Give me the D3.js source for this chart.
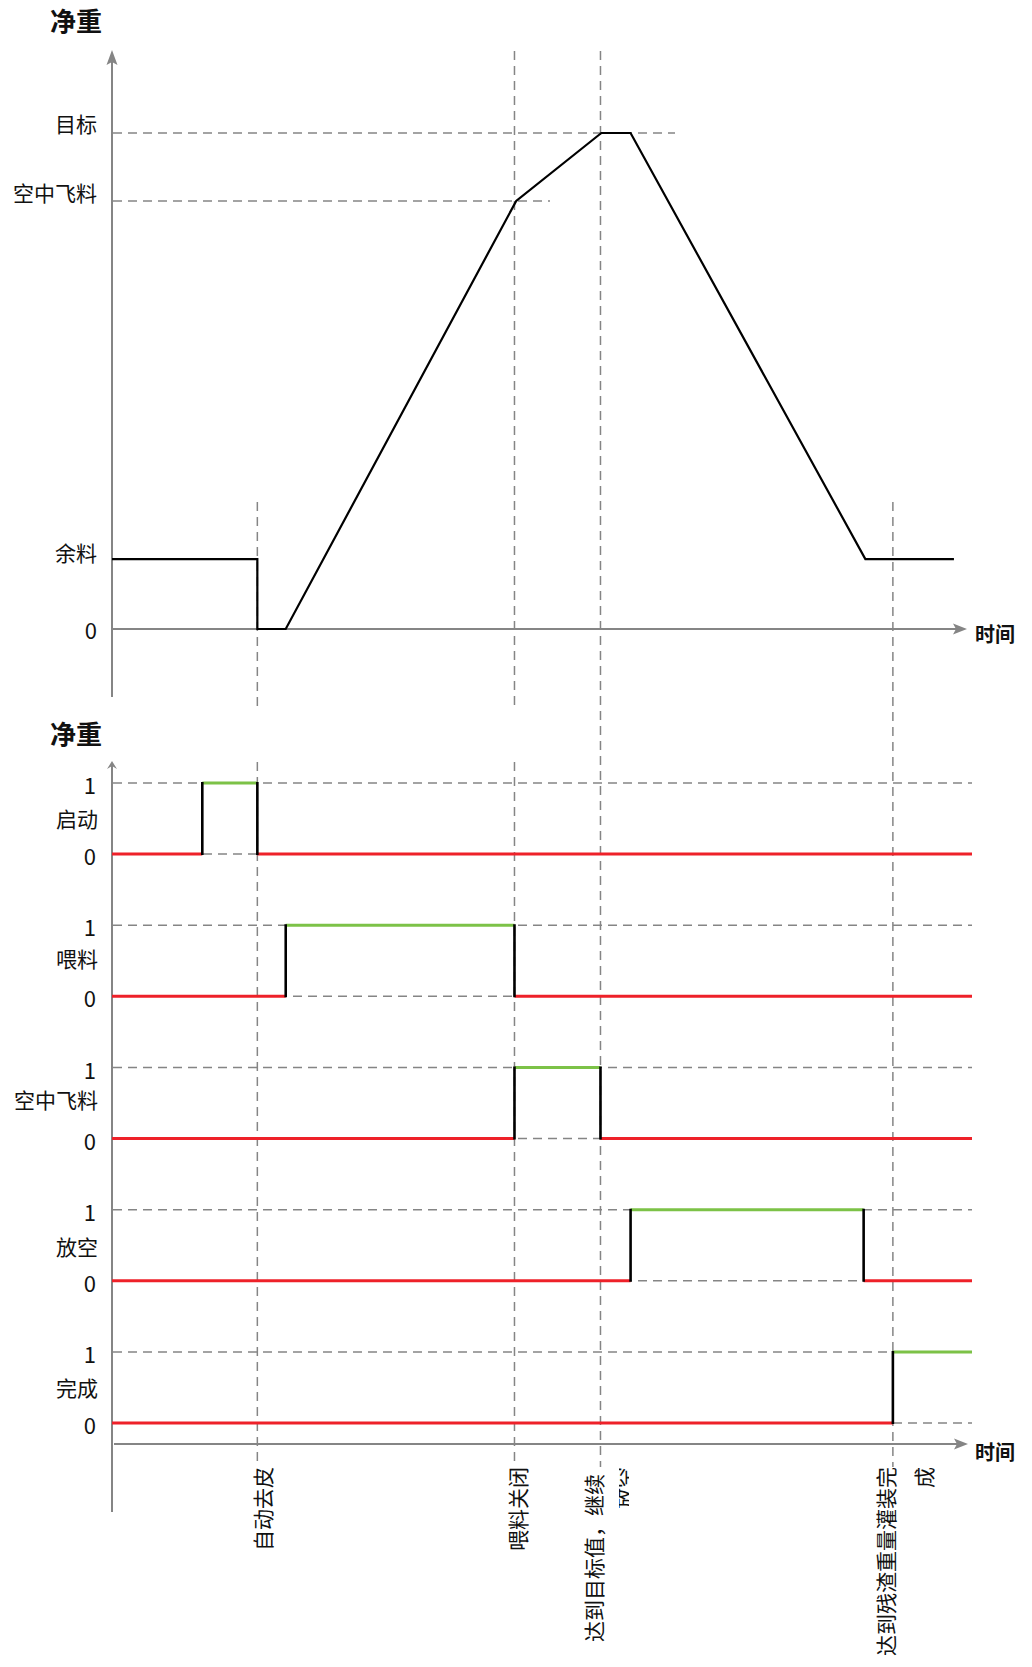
<!DOCTYPE html>
<html>
<head>
<meta charset="utf-8">
<script src="https://cdn.jsdelivr.net/npm/d3@7"></script>
<style>
  html, body { margin: 0; padding: 0; background: #fff; }
  svg { display: block; }
  text { font-family: "Noto Sans CJK SC", "Noto Sans", sans-serif; fill: #111; }
</style>
</head>
<body>
<svg id="chart" width="1032" height="1667"></svg>
<script>
// ---------------- data ----------------
const timeDomain = [0, 100];
// top chart: net weight levels
const weightLevelLabels = ["0", "余料", "空中飞料", "目标"];
const weightLevelValues = [0, 14.1, 86.3, 100];
// net weight curve (time, value)
const netWeightTime  = [0, 16.9, 16.9, 20.2, 47.0, 56.9, 60.3, 87.6, 97.9];
const netWeightValue = [14.1, 14.1, 0, 0, 86.3, 100, 100, 14.1, 14.1];
// bottom chart: signals
const signalNames = ["启动", "喂料", "空中飞料", "放空", "完成"];
const signalChangeTimes = [
  [0, 10.5, 16.9],
  [0, 20.2, 46.8],
  [0, 46.8, 56.8],
  [0, 60.3, 87.4],
  [0, 90.8]
];
const signalStates = [
  [0, 1, 0],
  [0, 1, 0],
  [0, 1, 0],
  [0, 1, 0],
  [0, 1]
];
const stateTickLabels = ["0", "1"];
// events
const eventTimes = [16.9, 46.8, 56.8, 90.8];
const eventLabels = [["自动去皮"], ["喂料关闭"], ["达到目标值，继续", "放空"], ["达到残渣重量灌装完", "成"]];
const yAxisTitle = "净重";
const xAxisTitle = "时间";

// ---------------- layout ----------------
const svg = d3.select("#chart");
const GREY = "#858585";
const RED = "#ee2129";
const GREEN = "#7cc247";
const DASH = "9,6";

const x = d3.scaleLinear().domain(timeDomain).range([112, 972]);
const yTop = d3.scaleLinear().domain([0, 100]).range([629, 133]);

function arrowUp(cx, tipY, len, half) {
  svg.append("path")
    .attr("d", `M${cx},${tipY} L${cx - half},${tipY + len} L${cx},${tipY + len - 3} L${cx + half},${tipY + len} Z`)
    .attr("fill", GREY);
}
function arrowRight(tipX, cy, len, half) {
  svg.append("path")
    .attr("d", `M${tipX},${cy} L${tipX - len},${cy - half} L${tipX - len + 3},${cy} L${tipX - len},${cy + half} Z`)
    .attr("fill", GREY);
}

// ---------- event vertical dashed guides ----------
const guideSegments = [
  [[502, 708], [762, 1467]],
  [[51, 707], [762, 1463]],
  [[51, 1467]],
  [[502, 1467]]
];
eventTimes.forEach((t, i) => {
  guideSegments[i].forEach(seg => {
    svg.append("line")
      .attr("x1", x(t)).attr("x2", x(t))
      .attr("y1", seg[0]).attr("y2", seg[1])
      .attr("stroke", GREY).attr("stroke-width", 1.5)
      .attr("stroke-dasharray", DASH);
  });
});

// ================= TOP CHART =================
svg.append("text").attr("x", 50).attr("y", 31)
  .attr("font-size", 26).attr("font-weight", "bold").text(yAxisTitle);

// horizontal reference dashes
const refDashEnds = {"空中飞料": 550, "目标": 675};
weightLevelLabels.forEach((lab, i) => {
  if (refDashEnds[lab]) {
    svg.append("line")
      .attr("x1", 113).attr("x2", refDashEnds[lab])
      .attr("y1", yTop(weightLevelValues[i])).attr("y2", yTop(weightLevelValues[i]))
      .attr("stroke", GREY).attr("stroke-width", 1.5)
      .attr("stroke-dasharray", DASH);
  }
});

// axes
svg.append("line").attr("x1", 112).attr("x2", 112).attr("y1", 62).attr("y2", 697)
  .attr("stroke", GREY).attr("stroke-width", 2);
arrowUp(112, 50, 15, 5.5);
svg.append("line").attr("x1", 113).attr("x2", 956).attr("y1", yTop(0)).attr("y2", yTop(0))
  .attr("stroke", GREY).attr("stroke-width", 2);
arrowRight(967, yTop(0), 14, 5.5);
svg.append("text").attr("x", 975).attr("y", yTop(0) + 8)
  .attr("dominant-baseline", "middle")
  .attr("font-size", 20).attr("font-weight", "bold").text(xAxisTitle);

// level labels
const levelLabelOffset = {"0": 0, "余料": -7, "空中飞料": -9, "目标": -10};
weightLevelLabels.forEach((lab, i) => {
  svg.append("text")
    .attr("x", 97).attr("y", yTop(weightLevelValues[i]) + levelLabelOffset[lab])
    .attr("text-anchor", "end").attr("dominant-baseline", "central")
    .attr("font-size", lab === "0" ? 22 : 21).text(lab);
});

// net weight curve
const curvePts = netWeightTime.map((t, i) => [x(t), yTop(netWeightValue[i])]);
svg.append("path")
  .attr("d", d3.line()(curvePts))
  .attr("fill", "none").attr("stroke", "#000").attr("stroke-width", 2.2)
  .attr("stroke-linejoin", "miter");

// ================= BOTTOM CHART =================
svg.append("text").attr("x", 50).attr("y", 744)
  .attr("font-size", 26).attr("font-weight", "bold").text(yAxisTitle);

const rowTop0 = 783, rowStep = 142.25, rowHeight = 71;
const rowScales = signalNames.map((n, i) =>
  d3.scaleLinear().domain([0, 1]).range([rowTop0 + i * rowStep + rowHeight, rowTop0 + i * rowStep]));

// dashed level lines
rowScales.forEach(ys => {
  [0, 1].forEach(v => {
    svg.append("line")
      .attr("x1", 113).attr("x2", 972)
      .attr("y1", ys(v)).attr("y2", ys(v))
      .attr("stroke", GREY).attr("stroke-width", 1.5)
      .attr("stroke-dasharray", DASH);
  });
});

// axes
svg.append("line").attr("x1", 112).attr("x2", 112).attr("y1", 766).attr("y2", 1512)
  .attr("stroke", GREY).attr("stroke-width", 2);
arrowUp(112, 761, 8, 5);
svg.append("line").attr("x1", 114).attr("x2", 957).attr("y1", 1444).attr("y2", 1444)
  .attr("stroke", GREY).attr("stroke-width", 2);
arrowRight(968, 1444, 14, 5.5);
svg.append("text").attr("x", 975).attr("y", 1455)
  .attr("dominant-baseline", "middle")
  .attr("font-size", 20).attr("font-weight", "bold").text(xAxisTitle);

// row labels
const nameOffsets = [-1, -3, -4, 1, -1];
signalNames.forEach((name, i) => {
  const ys = rowScales[i];
  stateTickLabels.forEach((lab, v) => {
    svg.append("text")
      .attr("x", 96).attr("y", ys(v) + 1)
      .attr("text-anchor", "end").attr("dominant-baseline", "central")
      .attr("font-size", 22).text(lab);
  });
  svg.append("text")
    .attr("x", 98).attr("y", (ys(0) + ys(1)) / 2 + nameOffsets[i])
    .attr("text-anchor", "end").attr("dominant-baseline", "central")
    .attr("font-size", 21).text(name);
});

// signal traces
signalNames.forEach((name, i) => {
  const ys = rowScales[i];
  const times = signalChangeTimes[i];
  const states = signalStates[i];
  states.forEach((s, k) => {
    const t0 = times[k];
    const t1 = k + 1 < times.length ? times[k + 1] : timeDomain[1];
    svg.append("line")
      .attr("x1", x(t0)).attr("x2", x(t1))
      .attr("y1", ys(s)).attr("y2", ys(s))
      .attr("stroke", s === 1 ? GREEN : RED).attr("stroke-width", 2.8);
  });
  for (let k = 1; k < times.length; k++) {
    svg.append("line")
      .attr("x1", x(times[k])).attr("x2", x(times[k]))
      .attr("y1", ys(0) + 1).attr("y2", ys(1) - 1)
      .attr("stroke", "#000").attr("stroke-width", 2.6);
  }
});

// event labels (rotated, wrapped into columns)
const colOffsets = [[4.5], [2.5], [-7.5, 22.5], [-7.5, 30.5]];
const defs = svg.append("defs");
defs.append("clipPath").attr("id", "clipCol")
  .append("rect").attr("x", 619).attr("y", 1460).attr("width", 10).attr("height", 80);
eventLabels.forEach((cols, i) => {
  cols.forEach((txt, c) => {
    const cx = x(eventTimes[i]) + colOffsets[i][c];
    const endY = (i === 2 && c === 0) ? 1474 : 1467;
    const t = svg.append("text")
      .attr("transform", `translate(${cx},${endY}) rotate(-90)`)
      .attr("text-anchor", "end").attr("dominant-baseline", "central")
      .attr("font-size", 21).text(txt);
    if (i === 2 && c === 1) {
      const g = svg.append("g").attr("clip-path", "url(#clipCol)");
      g.node().appendChild(t.node());
    }
  });
});
</script>
</body>
</html>
